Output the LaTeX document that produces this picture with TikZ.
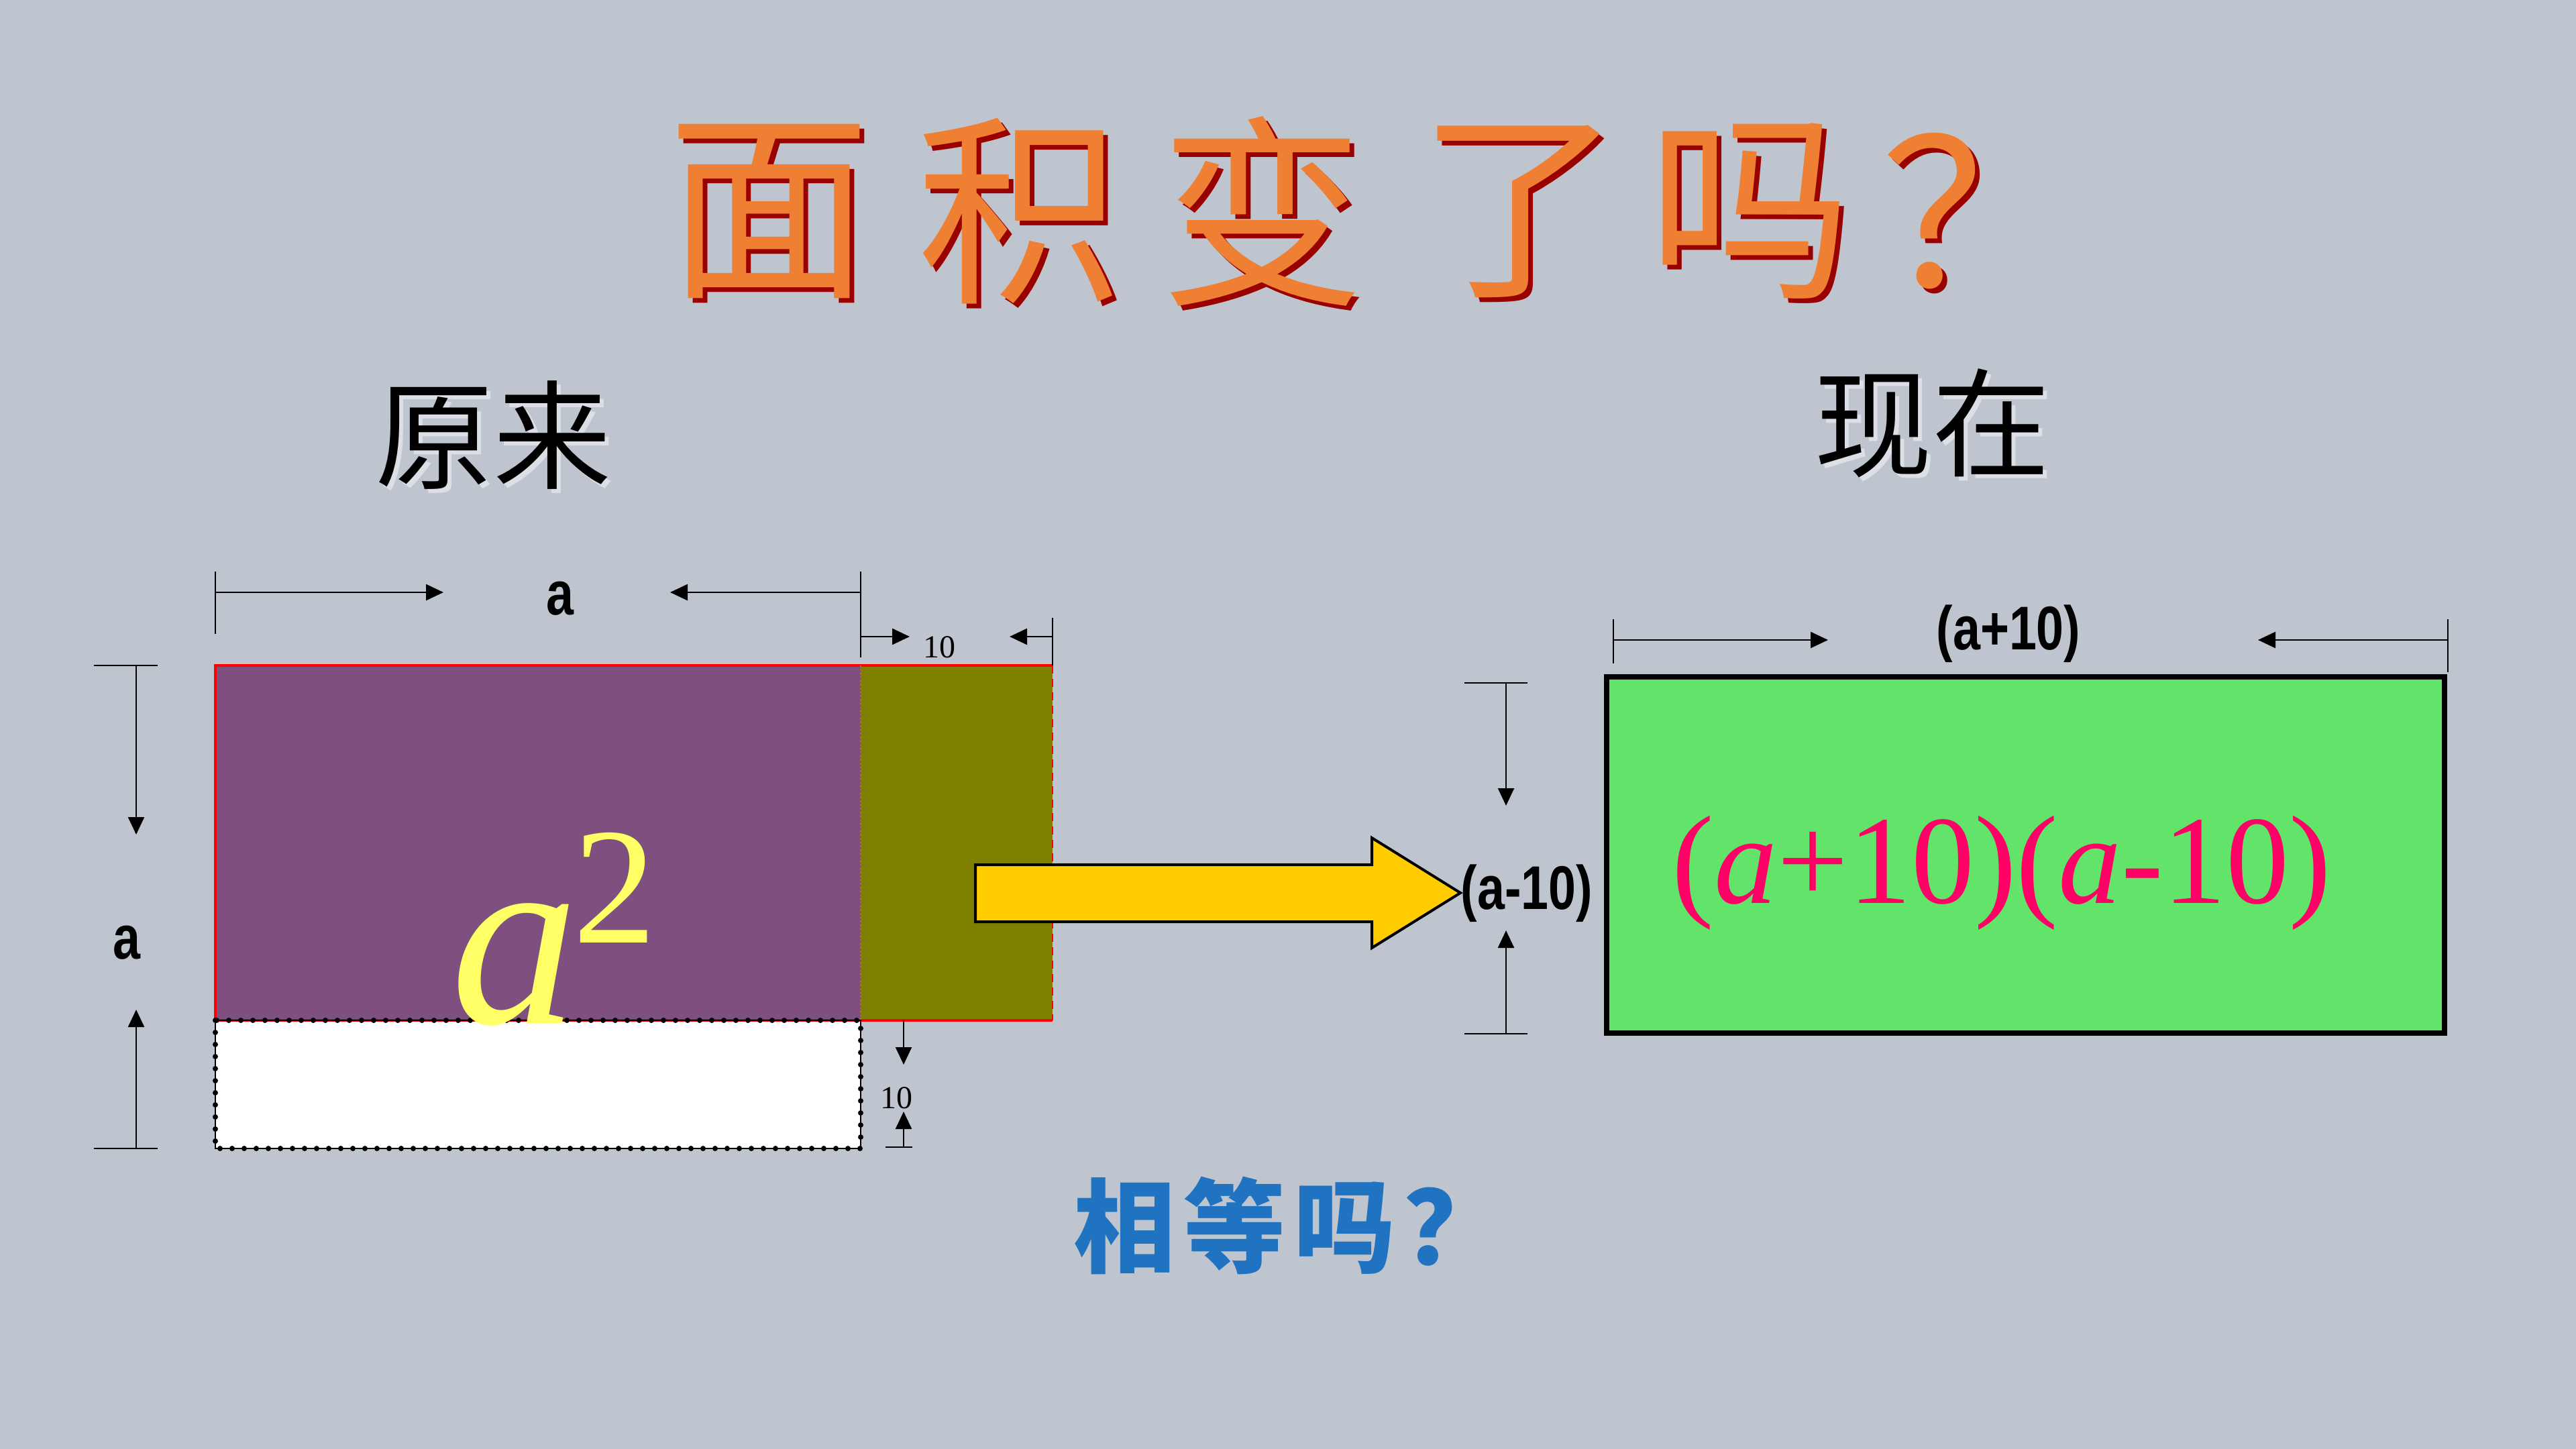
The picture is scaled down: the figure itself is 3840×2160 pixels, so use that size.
\documentclass[tikz,border=0pt]{standalone}
\usepackage{fontspec}
\setmainfont{Liberation Serif}
\newfontfamily\cjk{Noto Sans CJK SC}
\newfontfamily\lab{Liberation Sans}[FakeStretch=0.8]
\usetikzlibrary{arrows.meta}
\definecolor{bg}{HTML}{BFC5CE}
\definecolor{ttlc}{HTML}{EE7F33}
\definecolor{ttlsh}{HTML}{990000}
\definecolor{purp}{HTML}{7F4F7F}
\definecolor{oliv}{HTML}{808000}
\definecolor{yel}{HTML}{FFCC00}
\definecolor{grn}{HTML}{62E36A}
\definecolor{pinkc}{HTML}{FF0066}
\definecolor{bluc}{HTML}{1F73C1}
\definecolor{asqc}{HTML}{FFFF66}
\definecolor{lsh}{HTML}{DCE0E6}
\begin{document}
\begin{tikzpicture}[x=0.25pt,y=-0.25pt,
  dimline/.style={line width=0.6pt},
  dimarr/.style={line width=0.6pt,-{Triangle[length=6.5pt,width=6pt]}},
  ttl/.style={font=\cjk\fontsize{76}{76}\selectfont,inner sep=0pt},
  sub/.style={font=\cjk\fontsize{44}{44}\selectfont,inner sep=0pt},
  lbl/.style={font=\lab\bfseries\fontsize{23}{23}\selectfont,inner sep=0pt},
  ten/.style={font=\fontsize{12}{12}\selectfont,inner sep=0pt}]
\fill[bg] (0,0) rectangle (3840,2160);
\useasboundingbox (0,0) rectangle (3840,2160);

% title with shadow
\node[ttl,text=ttlsh] (t1s) at (1153,322) {面};
\node[ttl,text=ttlsh] (t2s) at (1525,322) {积};
\node[ttl,text=ttlsh] (t3s) at (1888,322) {变};
\node[ttl,text=ttlsh] (t4s) at (2272,322) {了};
\node[ttl,text=ttlsh] (t5s) at (2615,322) {吗};
\node[ttl,text=ttlsh] (t6s) at (2963,322) {？};
\node[ttl,text=ttlc] (t1) at (1146,315) {面};
\node[ttl,text=ttlc] (t2) at (1518,315) {积};
\node[ttl,text=ttlc] (t3) at (1881,315) {变};
\node[ttl,text=ttlc] (t4) at (2265,315) {了};
\node[ttl,text=ttlc] (t5) at (2608,315) {吗};
\node[ttl,text=ttlc] (t6) at (2956,315) {？};

% subtitles
\node[sub,text=lsh] (origs) at (741,655) {原来};
\node[sub] (orig) at (735,649) {原来};
\node[sub,text=lsh] (nows) at (2886,637) {现在};
\node[sub] (now) at (2880,631) {现在};

% left figure
\fill[purp] (321,992) rectangle (1283,1521);
\fill[oliv] (1283,992) rectangle (1569,1521);
\fill[white] (321,1521) rectangle (1283,1712);
\draw[red,line width=0.8pt] (321,1521) -- (321,992) -- (1569,992);
\draw[red,line width=0.8pt] (321,1521) -- (1569,1521);
\draw[red,line width=0.6pt,densely dashed] (1569,992) -- (1569,1521);
\draw[oliv!60!orange,line width=0.4pt,densely dotted] (1283,992) -- (1283,1521);
\draw[black,line width=0.4pt] (321,1521) rectangle (1283,1712);
\draw[black,line width=2pt,line cap=round,dash pattern=on 0pt off 4.5pt] (321,1521) rectangle (1283,1712);

\node[anchor=base west,inner sep=0pt,text=asqc,font=\fontsize{95}{95}\selectfont] (asq) at (672,1525)
  {\itshape a\kern-2pt\raisebox{30pt}{\upshape\fontsize{62}{62}\selectfont 2}};

% top "a" dimension
\coordinate (ta1) at (321,852); \coordinate (ta2) at (321,945);
\coordinate (tb1) at (1283,852); \coordinate (tb2) at (1283,980);
\coordinate (taL) at (321,883); \coordinate (taR) at (1283,883);
\node[lbl] (alblt) at (835,892) {a};
\draw[dimline] (ta1) -- (ta2);
\draw[dimline] (tb1) -- (tb2);
\draw[dimarr] (taL) -- (661,883);
\draw[dimarr] (taR) -- (999,883);

% top "10" dimension
\coordinate (tcL) at (1283,949); \coordinate (tc1) at (1569,921); \coordinate (tc2) at (1569,992);
\coordinate (tcR) at (1569,949);
\node[ten] (ten1) at (1400,965) {10};
\draw[dimline] (tc1) -- (tc2);
\draw[dimarr] (tcL) -- (1356,949);
\draw[dimarr] (tcR) -- (1505,949);

% left "a" dimension
\coordinate (la1) at (140,992); \coordinate (la2) at (235,992);
\coordinate (lb1) at (140,1712); \coordinate (lb2) at (235,1712);
\coordinate (laT) at (203,992); \coordinate (laB) at (203,1712);
\node[lbl] (albll) at (189,1405) {a};
\draw[dimline] (la1) -- (la2);
\draw[dimline] (lb1) -- (lb2);
\draw[dimarr] (laT) -- (203,1244);
\draw[dimarr] (laB) -- (203,1505);

% bottom "10" dimension
\coordinate (bdT) at (1347,1521); \coordinate (bdB) at (1347,1710);
\coordinate (bd1) at (1320,1710); \coordinate (bd2) at (1360,1710);
\node[ten] (ten2) at (1336,1637) {10};
\draw[dimarr] (bdT) -- (1347,1587);
\draw[dimarr] (bdB) -- (1347,1657);
\draw[dimline] (bd1) -- (bd2);

% yellow block arrow
\draw[fill=yel,line width=1pt,line join=miter] (1454,1289) -- (2045,1289) -- (2045,1249) -- (2177,1331) -- (2045,1413) -- (2045,1374) -- (1454,1374) -- cycle;

% right figure
\draw[fill=grn,line width=2pt] (2395,1009) rectangle (3644,1540);
\node[anchor=base,inner sep=0pt,text=pinkc,font=\fontsize{47}{47}\selectfont] (prod) at (2984,1346)
  {(\textit{a}+10)(\textit{a}-10)};

% top "(a+10)" dimension
\coordinate (ra1) at (2405,923); \coordinate (ra2) at (2405,989);
\coordinate (rb1) at (3649,923); \coordinate (rb2) at (3649,1002);
\coordinate (raL) at (2405,954); \coordinate (raR) at (3649,954);
\node[lbl] (apl) at (2994,945) {(a+10)};
\draw[dimline] (ra1) -- (ra2);
\draw[dimline] (rb1) -- (rb2);
\draw[dimarr] (raL) -- (2725,954);
\draw[dimarr] (raR) -- (3366,954);

% left "(a-10)" dimension
\coordinate (rl1) at (2183,1018); \coordinate (rl2) at (2277,1018);
\coordinate (rm1) at (2183,1541); \coordinate (rm2) at (2277,1541);
\coordinate (rlT) at (2245,1018); \coordinate (rlB) at (2245,1541);
\node[lbl] (ami) at (2276,1332) {(a-10)};
\draw[dimline] (rl1) -- (rl2);
\draw[dimline] (rm1) -- (rm2);
\draw[dimarr] (rlT) -- (2245,1201);
\draw[dimarr] (rlB) -- (2245,1387);

% bottom question
\node[anchor=west,inner sep=0pt,text=bluc,font=\cjk\bfseries\fontsize{38}{38}\selectfont] (eq) at (1600,1827) {相\kern3pt 等\kern3pt 吗\kern3pt ？};
\end{tikzpicture}
\end{document}
